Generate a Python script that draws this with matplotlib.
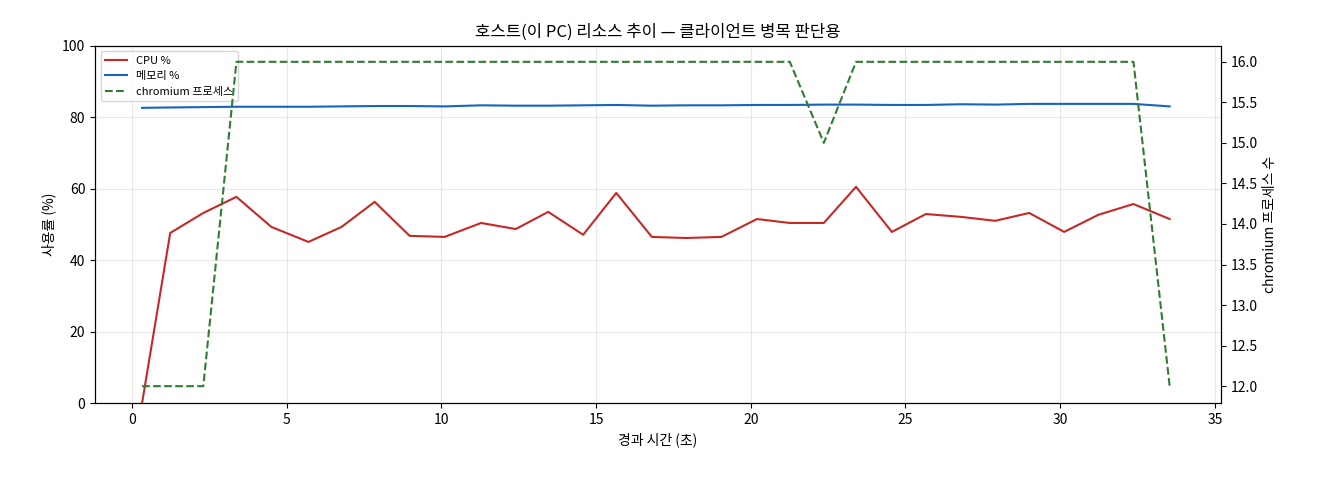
import matplotlib
matplotlib.use("Agg")
import matplotlib.pyplot as plt

plt.rcParams['font.family'] = ['Noto Sans CJK KR', 'DejaVu Sans']

t = [0.32,1.23,2.3,3.37,4.5,5.7,6.77,7.84,8.97,10.1,11.28,12.4,13.45,14.58,15.65,16.8,17.9,19.05,20.2,21.26,22.36,23.4,24.56,25.66,26.8,27.9,29.0,30.13,31.24,32.37,33.54]
cpu = [0,47.6,53.2,57.7,49.3,45.1,49.3,56.3,46.8,46.5,50.4,48.7,53.5,47.1,58.8,46.5,46.2,46.5,51.5,50.4,50.4,60.5,47.9,52.9,52.1,51.0,53.2,47.9,52.7,55.7,51.5]
mem = [82.6,82.7,82.8,82.9,82.9,82.9,83.0,83.1,83.1,83.0,83.3,83.2,83.2,83.3,83.4,83.2,83.3,83.3,83.4,83.4,83.5,83.5,83.4,83.4,83.6,83.5,83.7,83.7,83.7,83.7,83.0]
procs = [12,12,12,16,16,16,16,16,16,16,16,16,16,16,16,16,16,16,16,16,15,16,16,16,16,16,16,16,16,16,12]

fig, ax = plt.subplots(figsize=(13.2,4.8), dpi=100)
fig.subplots_adjust(left=0.072, right=0.925, top=0.905, bottom=0.16)
l1, = ax.plot(t, cpu, color='#c62828', lw=1.5, label='CPU %')
l2, = ax.plot(t, mem, color='#1565c0', lw=1.5, label='메모리 %')
ax.set_ylim(0,100)
ax.set_xlim(-1.2, 35.2)
ax.grid(True, alpha=0.3)
ax.set_xlabel('경과 시간 (초)')
ax.set_ylabel('사용률 (%)')
ax.set_title('호스트(이 PC) 리소스 추이 — 클라이언트 병목 판단용')
ax2 = ax.twinx()
l3, = ax2.plot(t, procs, color='#2e7d32', lw=1.5, ls='--', label='chromium 프로세스')
ax2.set_ylim(11.79, 16.2)
ax2.set_ylabel('chromium 프로세스 수')
ax.legend(handles=[l1,l2,l3], loc='upper left', fontsize=8)
fig.savefig('out.png')
